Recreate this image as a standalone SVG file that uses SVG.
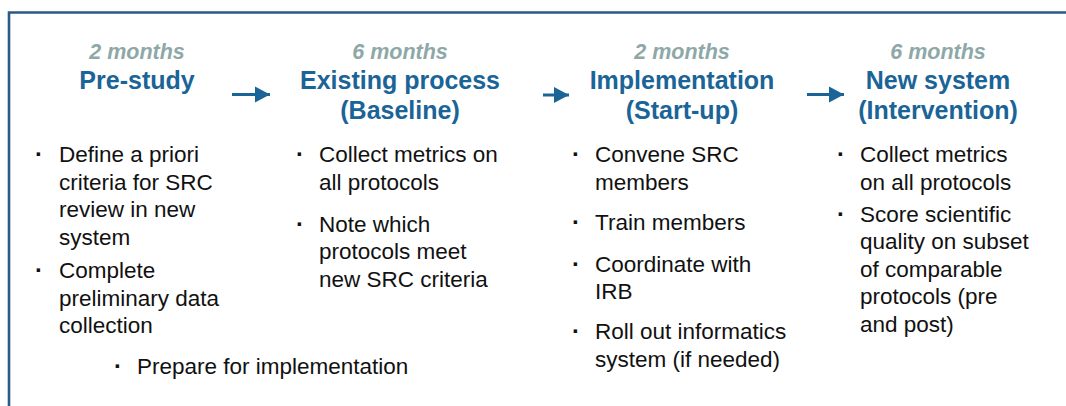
<svg xmlns="http://www.w3.org/2000/svg" width="1066" height="406" viewBox="0 0 1066 406">
  <style>
    .frame { fill: none; stroke: #2a5a86; stroke-width: 2.6; }
    .dur { font-family: "Liberation Sans", Arial, sans-serif; font-size: 21.5px; font-weight: bold; font-style: italic; fill: #8ea8a8; text-anchor: middle; }
    .title { font-family: "Liberation Sans", Arial, sans-serif; font-size: 25px; font-weight: bold; fill: #1a6497; text-anchor: middle; }
    .body { font-family: "Liberation Sans", Arial, sans-serif; font-size: 22.5px; fill: #111111; }
    .dot { font-family: "Liberation Sans", Arial, sans-serif; font-size: 24px; font-weight: bold; fill: #111111; }
    .link { stroke: #1a6497; stroke-width: 3; fill: none; }
  </style>
  <defs>
    <marker id="head" markerUnits="userSpaceOnUse" markerWidth="16" markerHeight="18" refX="15" refY="8.5" orient="auto">
      <path d="M0,0.5 L15,8.5 L0,16.5 Z" fill="#1a6497"/>
    </marker>
  </defs>

  <rect width="1066" height="406" fill="#ffffff"/>

  <!-- outer frame (runs off the right and bottom edges) -->
  <path class="frame" d="M9,412 V12.5 H1072"/>

  <!-- phase 1 -->
  <g id="pre-study">
    <text class="dur" x="137" y="59">2 months</text>
    <text class="title" x="137" y="89">Pre-study</text>
    <text class="dot" x="35" y="162">·</text>
    <text class="body" x="59" y="162">Define a priori</text>
    <text class="body" x="59" y="190">criteria for SRC</text>
    <text class="body" x="59" y="217">review in new</text>
    <text class="body" x="59" y="245">system</text>
    <text class="dot" x="35" y="278">·</text>
    <text class="body" x="59" y="278">Complete</text>
    <text class="body" x="59" y="306">preliminary data</text>
    <text class="body" x="59" y="333">collection</text>
    <text class="dot" x="114" y="374">·</text>
    <text class="body" x="137" y="374">Prepare for implementation</text>
  </g>

  <!-- phase 2 -->
  <g id="baseline">
    <text class="dur" x="400" y="59">6 months</text>
    <text class="title" x="400" y="89">Existing process</text>
    <text class="title" x="400" y="119">(Baseline)</text>
    <text class="dot" x="296" y="162">·</text>
    <text class="body" x="319" y="162">Collect metrics on</text>
    <text class="body" x="319" y="190">all protocols</text>
    <text class="dot" x="296" y="232">·</text>
    <text class="body" x="319" y="232">Note which</text>
    <text class="body" x="319" y="259">protocols meet</text>
    <text class="body" x="319" y="287">new SRC criteria</text>
  </g>

  <!-- phase 3 -->
  <g id="start-up">
    <text class="dur" x="682" y="59">2 months</text>
    <text class="title" x="682" y="89">Implementation</text>
    <text class="title" x="682" y="119">(Start-up)</text>
    <text class="dot" x="572" y="162">·</text>
    <text class="body" x="595" y="162">Convene SRC</text>
    <text class="body" x="595" y="190">members</text>
    <text class="dot" x="572" y="230">·</text>
    <text class="body" x="595" y="230">Train members</text>
    <text class="dot" x="572" y="272">·</text>
    <text class="body" x="595" y="272">Coordinate with</text>
    <text class="body" x="595" y="299">IRB</text>
    <text class="dot" x="572" y="339">·</text>
    <text class="body" x="595" y="339">Roll out informatics</text>
    <text class="body" x="595" y="367">system (if needed)</text>
  </g>

  <!-- phase 4 -->
  <g id="intervention">
    <text class="dur" x="938" y="59">6 months</text>
    <text class="title" x="938" y="89">New system</text>
    <text class="title" x="938" y="119">(Intervention)</text>
    <text class="dot" x="837" y="162">·</text>
    <text class="body" x="860" y="162">Collect metrics</text>
    <text class="body" x="860" y="190">on all protocols</text>
    <text class="dot" x="837" y="222">·</text>
    <text class="body" x="860" y="222">Score scientific</text>
    <text class="body" x="860" y="249">quality on subset</text>
    <text class="body" x="860" y="277">of comparable</text>
    <text class="body" x="860" y="304">protocols (pre</text>
    <text class="body" x="860" y="332">and post)</text>
  </g>

  <!-- arrows between phases -->
  <g id="connectors">
    <line class="link" x1="232" y1="94.5" x2="270" y2="94.5" marker-end="url(#head)"/>
    <line class="link" x1="543" y1="95" x2="569" y2="95" marker-end="url(#head)"/>
    <line class="link" x1="807" y1="94.5" x2="844" y2="94.5" marker-end="url(#head)"/>
  </g>
</svg>
